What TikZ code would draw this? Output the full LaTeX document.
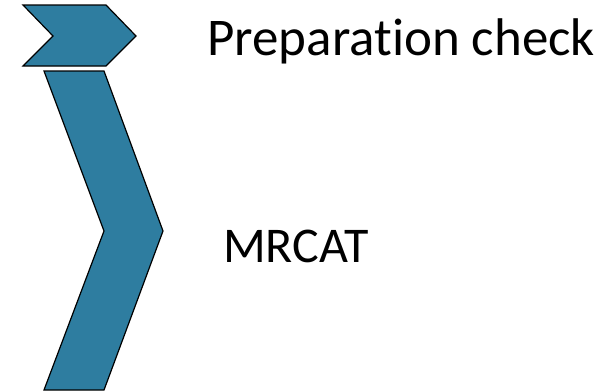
\documentclass[tikz,border=0pt]{standalone}
\usepackage{fontspec}
\setmainfont[Ligatures=NoCommon]{Carlito}
\definecolor{chev}{RGB}{46,125,160}
\begin{document}
\begin{tikzpicture}[x=1pt,y=-1pt,
  chevshape/.style={fill=chev,draw=black,line width=1.2pt,line join=miter},
  lbl/.style={anchor=base west,inner sep=0pt}]
\useasboundingbox (0,0) rectangle (611,391);
\draw[chevshape] (23,5) -- (106,5) -- (136,36) -- (106,66) -- (23,66) -- (53,36) -- cycle;
\draw[chevshape] (44,71) -- (104,71) -- (163,231) -- (104,390) -- (44,390) -- (104,231) -- cycle;
\node[lbl,font=\fontsize{53}{60}\selectfont] (t1) at (207,55) {Preparation check};
\node[lbl,font=\fontsize{50}{60}\selectfont] (t2) at (223,262) {MRCAT};
\end{tikzpicture}
\end{document}
